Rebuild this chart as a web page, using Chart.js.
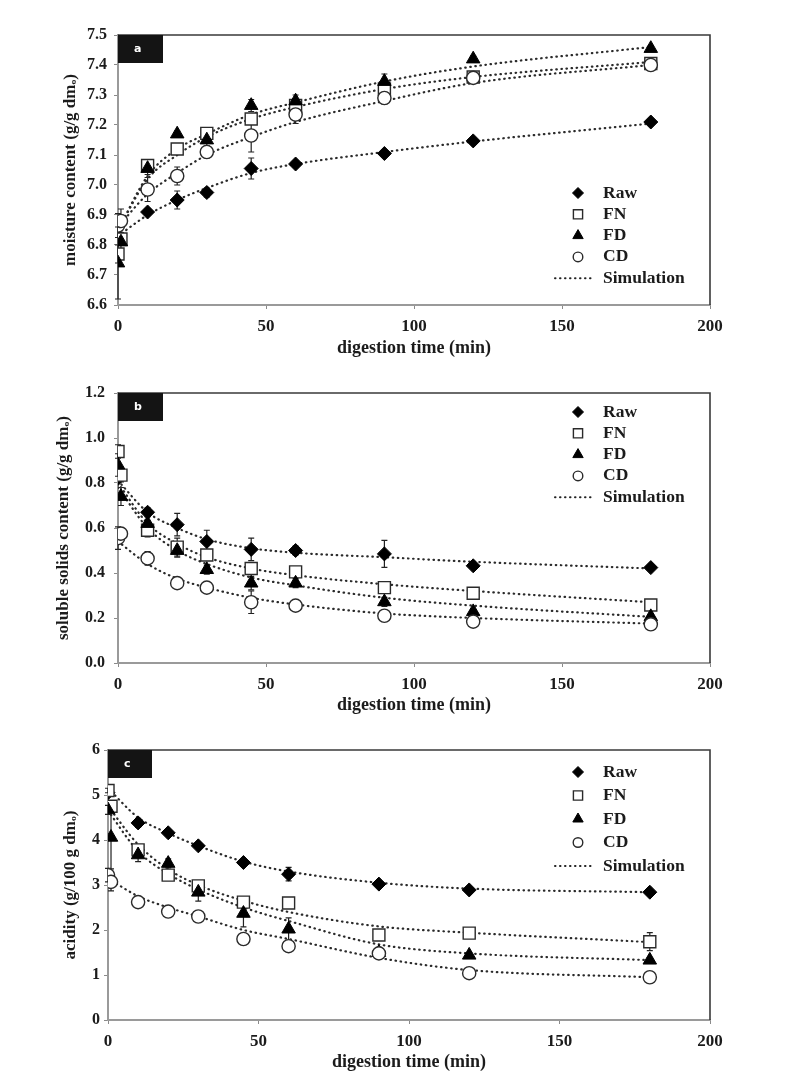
<!DOCTYPE html>
<html>
<head>
<meta charset="utf-8">
<script src="https://cdn.jsdelivr.net/npm/chart.js@4.4.1/dist/chart.umd.min.js"></script>
<style>
    html, body { margin: 0; padding: 0; background: #fff; }
    .panel { position: absolute; left: 0; width: 806px; }
</style>
</head>
<body>
<div class="panel" style="top:0;height:360px"><canvas id="chartA" width="806" height="360"></canvas></div>
<div class="panel" style="top:360px;height:360px"><canvas id="chartB" width="806" height="360"></canvas></div>
<div class="panel" style="top:720px;height:362px"><canvas id="chartC" width="806" height="362"></canvas></div>
<script>
// time points (min)
const timesObs = [0, 1, 10, 20, 30, 45, 60, 90, 120, 180];
const timesRaw = [0, 10, 20, 30, 45, 60, 90, 120, 180];
const timesSim = [0, 10, 20, 30, 45, 60, 90, 120, 180];
const xTicks = [0, 50, 100, 150, 200];
const seriesNames = ["Raw", "FN", "FD", "CD"];

// (a) moisture content
const moistRaw = [6.83, 6.91, 6.95, 6.975, 7.055, 7.07, 7.105, 7.147, 7.21];
const moistFN = [6.77, 6.82, 7.065, 7.12, 7.172, 7.22, 7.265, 7.32, 7.36, 7.405];
const moistFD = [6.74, 6.81, 7.055, 7.17, 7.15, 7.265, 7.28, 7.345, 7.42, 7.455];
const moistCD = [6.865, 6.88, 6.985, 7.03, 7.11, 7.165, 7.235, 7.29, 7.357, 7.40];
const moistRawErr = [0, 0.01, 0.03, 0.015, 0.035, 0.01, 0.01, 0.01, 0.01];
const moistFNErr = [0.03, 0.02, 0.015, 0.01, 0.01, 0.015, 0.01, 0.01, 0.01, 0.01];
const moistFDErr = [0.12, 0.03, 0.02, 0.01, 0.02, 0.02, 0.02, 0.025, 0.01, 0.01];
const moistCDErr = [0.04, 0.04, 0.04, 0.03, 0.02, 0.055, 0.03, 0.02, 0.01, 0.01];
const moistSimRaw = [6.83, 6.90, 6.95, 6.99, 7.04, 7.07, 7.11, 7.145, 7.205];
const moistSimFN = [6.85, 7.02, 7.10, 7.16, 7.22, 7.26, 7.32, 7.36, 7.41];
const moistSimFD = [6.85, 7.03, 7.12, 7.17, 7.235, 7.275, 7.345, 7.395, 7.46];
const moistSimCD = [6.86, 6.97, 7.04, 7.10, 7.16, 7.21, 7.28, 7.34, 7.40];

// (b) soluble solids content
const solRaw = [0.82, 0.67, 0.615, 0.54, 0.505, 0.50, 0.485, 0.432, 0.424];
const solFN = [0.94, 0.835, 0.59, 0.515, 0.48, 0.42, 0.405, 0.335, 0.31, 0.258];
const solFD = [0.88, 0.74, 0.62, 0.50, 0.415, 0.355, 0.355, 0.272, 0.228, 0.206];
const solCD = [0.555, 0.575, 0.465, 0.355, 0.335, 0.27, 0.255, 0.21, 0.184, 0.172];
const solRawErr = [0, 0.02, 0.05, 0.05, 0.05, 0.02, 0.06, 0.01, 0.01];
const solFNErr = [0.03, 0.03, 0.03, 0.04, 0.02, 0.02, 0.02, 0.02, 0.01, 0.01];
const solFDErr = [0.05, 0.04, 0.03, 0.03, 0.02, 0.03, 0.02, 0.02, 0.01, 0.01];
const solCDErr = [0.05, 0.02, 0.03, 0.02, 0.02, 0.05, 0.02, 0.02, 0.01, 0.01];
const solSimRaw = [0.81, 0.67, 0.60, 0.55, 0.51, 0.49, 0.47, 0.45, 0.42];
const solSimFN = [0.80, 0.62, 0.53, 0.47, 0.42, 0.39, 0.35, 0.32, 0.27];
const solSimFD = [0.78, 0.60, 0.50, 0.44, 0.38, 0.345, 0.29, 0.255, 0.205];
const solSimCD = [0.54, 0.44, 0.375, 0.335, 0.29, 0.26, 0.22, 0.20, 0.175];

// (c) acidity
const acRaw = [5.05, 4.38, 4.16, 3.87, 3.50, 3.24, 3.02, 2.89, 2.84];
const acFN = [5.10, 4.75, 3.78, 3.22, 2.98, 2.62, 2.60, 1.89, 1.93, 1.74];
const acFD = [4.67, 4.06, 3.67, 3.48, 2.84, 2.37, 2.02, 1.50, 1.44, 1.33];
const acCD = [3.22, 3.07, 2.62, 2.41, 2.30, 1.80, 1.64, 1.48, 1.04, 0.95];
const acRawErr = [0, 0.1, 0.05, 0.05, 0.05, 0.15, 0.05, 0.05, 0.05];
const acFNErr = [0.05, 0.1, 0.1, 0.1, 0.1, 0.1, 0.1, 0.05, 0.05, 0.2];
const acFDErr = [0.1, 0.7, 0.15, 0.1, 0.2, 0.3, 0.25, 0.05, 0.05, 0.05];
const acCDErr = [0.15, 0.2, 0.05, 0.05, 0.05, 0.05, 0.05, 0.05, 0.05, 0.05];
const acSimRaw = [5.15, 4.50, 4.15, 3.87, 3.52, 3.30, 3.05, 2.92, 2.84];
const acSimFN = [4.75, 3.90, 3.35, 3.00, 2.65, 2.40, 2.08, 1.94, 1.73];
const acSimFD = [4.65, 3.75, 3.25, 2.90, 2.50, 2.20, 1.68, 1.48, 1.33];
const acSimCD = [3.15, 2.75, 2.50, 2.30, 2.00, 1.80, 1.38, 1.11, 0.95];

const SERIF = "'Liberation Serif', 'Times New Roman', 'DejaVu Serif', serif";
const INK = "#1b1b1b";

const markerStyles = [
    { pointStyle: "rectRot", radius: 7, fill: "#000", stroke: "#000", lw: 1, legendR: 5.5 },
    { pointStyle: "rect", radius: 8.5, fill: "#fff", stroke: "#2a2a2a", lw: 1.4, legendR: 6.5 },
    { pointStyle: "triangle", radius: 7.8, fill: "#000", stroke: "#000", lw: 1, legendR: 6 },
    { pointStyle: "circle", radius: 6.6, fill: "#fff", stroke: "#2a2a2a", lw: 1.4, legendR: 4.8 }
];

function toPoints(xs, ys) {
    return xs.map((x, i) => ({ x: x, y: ys[i] }));
}

/* error bars, frame, panel letter and legend */
const panelDecor = {
    id: "panelDecor",
    beforeDatasetsDraw(chart) {
        const ctx = chart.ctx;
        const xs = chart.scales.x, ys = chart.scales.y;
        ctx.save();
        ctx.strokeStyle = "#222";
        ctx.lineWidth = 1.2;
        chart.data.datasets.forEach(ds => {
            if (!ds.err) return;
            ds.data.forEach((p, i) => {
                const e = ds.err[i];
                if (!e) return;
                const px = xs.getPixelForValue(p.x);
                const y1 = ys.getPixelForValue(p.y - e);
                const y2 = ys.getPixelForValue(p.y + e);
                ctx.beginPath();
                ctx.moveTo(px, y1); ctx.lineTo(px, y2);
                ctx.moveTo(px - 3, y1); ctx.lineTo(px + 3, y1);
                ctx.moveTo(px - 3, y2); ctx.lineTo(px + 3, y2);
                ctx.stroke();
            });
        });
        ctx.restore();
    },
    afterDraw(chart, args, opts) {
        const ctx = chart.ctx;
        const a = chart.chartArea;
        ctx.save();

        // top and right frame
        ctx.strokeStyle = "#3a3a3a";
        ctx.lineWidth = 1.6;
        ctx.beginPath();
        ctx.moveTo(a.left, a.top);
        ctx.lineTo(a.right, a.top);
        ctx.lineTo(a.right, a.bottom);
        ctx.stroke();

        // panel letter box
        ctx.fillStyle = "#141414";
        ctx.fillRect(a.left, a.top, opts.boxW, 28);
        ctx.fillStyle = "#fff";
        ctx.font = "bold 11px 'DejaVu Sans', sans-serif";
        ctx.textAlign = "left";
        ctx.textBaseline = "middle";
        ctx.fillText(opts.letter, a.left + 16, a.top + 14);

        // legend
        const mx = 578, tx = 603;
        ctx.font = "bold 17.5px " + SERIF;
        seriesNames.forEach((name, i) => {
            const y = opts.legendTop + i * opts.legendDy;
            const m = markerStyles[i];
            ctx.fillStyle = m.fill;
            ctx.strokeStyle = m.stroke;
            ctx.lineWidth = m.lw;
            Chart.helpers.drawPoint(ctx, { pointStyle: m.pointStyle, radius: m.legendR, rotation: 0, borderWidth: m.lw }, mx, y);
            ctx.fillStyle = INK;
            ctx.fillText(name, tx, y);
        });
        const sy = opts.legendTop + 4 * opts.legendDy;
        ctx.strokeStyle = "#222";
        ctx.lineWidth = 2;
        ctx.lineCap = "round";
        ctx.setLineDash([0.5, 4.5]);
        ctx.beginPath();
        ctx.moveTo(555, sy);
        ctx.lineTo(594, sy);
        ctx.stroke();
        ctx.setLineDash([]);
        ctx.fillStyle = INK;
        ctx.fillText("Simulation", tx, sy);
        ctx.restore();
    }
};

function makePanel(id, cfg) {
    const obs = [cfg.raw, cfg.fn, cfg.fd, cfg.cd];
    const errs = [cfg.rawErr, cfg.fnErr, cfg.fdErr, cfg.cdErr];
    const sims = [cfg.simRaw, cfg.simFN, cfg.simFD, cfg.simCD];
    const datasets = [];

    // markers: CD on top, then FD, FN, Raw
    [3, 2, 1, 0].forEach(i => {
        const m = markerStyles[i];
        datasets.push({
            label: seriesNames[i],
            data: toPoints(i === 0 ? timesRaw : timesObs, obs[i]),
            err: errs[i],
            showLine: false,
            pointStyle: m.pointStyle,
            pointRadius: m.radius,
            pointBackgroundColor: m.fill,
            pointBorderColor: m.stroke,
            pointBorderWidth: m.lw
        });
    });
    // simulation curves underneath
    sims.forEach((s, i) => {
        datasets.push({
            label: "Simulation " + seriesNames[i],
            data: toPoints(timesSim, s),
            showLine: true,
            pointRadius: 0,
            borderColor: "#2a2a2a",
            borderWidth: 2.2,
            borderDash: [0.5, 4.6],
            borderCapStyle: "round",
            cubicInterpolationMode: "monotone",
            fill: false
        });
    });

    return new Chart(document.getElementById(id), {
        type: "scatter",
        data: { datasets: datasets },
        plugins: [panelDecor],
        options: {
            responsive: false,
            animation: false,
            layout: { padding: { left: cfg.padLeft, right: 96, top: cfg.padTop, bottom: 0 } },
            plugins: {
                legend: { display: false },
                tooltip: { enabled: false },
                panelDecor: { letter: cfg.letter, boxW: cfg.boxW, legendTop: cfg.legendTop, legendDy: cfg.legendDy }
            },
            scales: {
                x: {
                    type: "linear",
                    min: 0, max: 200,
                    afterFit: s => { s.height = cfg.xHeight; },
                    afterBuildTicks: s => { s.ticks = xTicks.map(v => ({ value: v })); },
                    border: { color: "#9a9a9a", width: 2 },
                    grid: { drawOnChartArea: false, tickLength: 4, color: "#8a8a8a" },
                    ticks: { color: INK, padding: 7, font: { family: SERIF, size: 17, weight: "bold" } },
                    title: {
                        display: true, text: "digestion time (min)", color: INK,
                        padding: { top: 0, bottom: cfg.xTitlePad },
                        font: { family: SERIF, size: 18, weight: "bold" }
                    }
                },
                y: {
                    type: "linear",
                    min: cfg.yMin, max: cfg.yMax,
                    afterFit: s => { s.width = cfg.yWidth; },
                    afterBuildTicks: s => { s.ticks = cfg.yTicks.map(v => ({ value: v })); },
                    border: { color: "#9a9a9a", width: 2 },
                    grid: { drawOnChartArea: false, tickLength: 4, color: "#8a8a8a" },
                    ticks: {
                        color: INK, padding: cfg.yTickPad,
                        font: { family: SERIF, size: 16, weight: "bold" },
                        callback: v => v.toFixed(cfg.yDec)
                    },
                    title: {
                        display: true, text: cfg.yTitle, color: INK,
                        padding: { top: 4, bottom: 0 },
                        font: { family: SERIF, size: 17, weight: "bold" }
                    }
                }
            }
        }
    });
}

makePanel("chartA", {
    letter: "a", boxW: 45,
    raw: moistRaw, fn: moistFN, fd: moistFD, cd: moistCD,
    rawErr: moistRawErr, fnErr: moistFNErr, fdErr: moistFDErr, cdErr: moistCDErr,
    simRaw: moistSimRaw, simFN: moistSimFN, simFD: moistSimFD, simCD: moistSimCD,
    yMin: 6.6, yMax: 7.5, yTicks: [6.6, 6.7, 6.8, 6.9, 7.0, 7.1, 7.2, 7.3, 7.4, 7.5], yDec: 1,
    yTitle: "moisture content (g/g dm\u2092)",
    padLeft: 56, yWidth: 62, yTickPad: 7, padTop: 35, xHeight: 55, xTitlePad: 1,
    legendTop: 193, legendDy: 21.3
});

makePanel("chartB", {
    letter: "b", boxW: 45,
    raw: solRaw, fn: solFN, fd: solFD, cd: solCD,
    rawErr: solRawErr, fnErr: solFNErr, fdErr: solFDErr, cdErr: solCDErr,
    simRaw: solSimRaw, simFN: solSimFN, simFD: solSimFD, simCD: solSimCD,
    yMin: 0, yMax: 1.2, yTicks: [0, 0.2, 0.4, 0.6, 0.8, 1.0, 1.2], yDec: 1,
    yTitle: "soluble solids content (g/g dm\u2092)",
    padLeft: 49, yWidth: 69, yTickPad: 9, padTop: 33, xHeight: 57, xTitlePad: 4,
    legendTop: 52, legendDy: 21.3
});

makePanel("chartC", {
    letter: "c", boxW: 44,
    raw: acRaw, fn: acFN, fd: acFD, cd: acCD,
    rawErr: acRawErr, fnErr: acFNErr, fdErr: acFDErr, cdErr: acCDErr,
    simRaw: acSimRaw, simFN: acSimFN, simFD: acSimFD, simCD: acSimCD,
    yMin: 0, yMax: 6, yTicks: [0, 1, 2, 3, 4, 5, 6], yDec: 0,
    yTitle: "acidity (g/100 g dm\u2092)",
    padLeft: 56, yWidth: 52, yTickPad: 4, padTop: 30, xHeight: 62, xTitlePad: 9,
    legendTop: 52, legendDy: 23.5
});
</script>
</body>
</html>
